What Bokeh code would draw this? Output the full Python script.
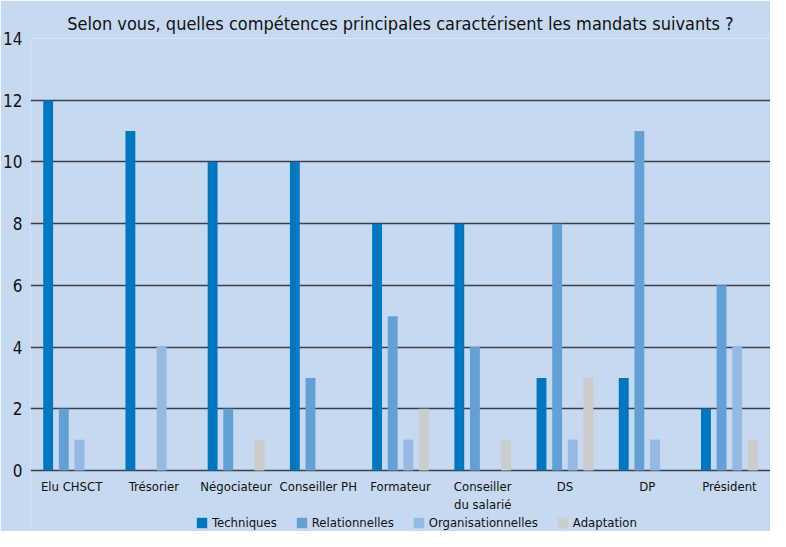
from bokeh.plotting import figure
from bokeh.models import ColumnDataSource, FactorRange, Legend, LegendItem, FixedTicker, Range1d
from bokeh.core.properties import value
from bokeh.transform import dodge
from bokeh.embed import file_html
from bokeh.resources import INLINE

categories = ["Elu CHSCT", "Trésorier", "Négociateur", "Conseiller PH", "Formateur",
              "Conseiller\ndu salarié", "DS", "DP", "Président"]
techniques = [12, 11, 10, 10, 8, 8, 3, 3, 2]
relationnelles = [2, 0, 2, 3, 5, 4, 8, 11, 6]
organisationnelles = [1, 4, 0, 0, 1, 0, 1, 1, 4]
adaptation = [0, 0, 1, 0, 2, 1, 3, 0, 1]
series_names = ["Techniques", "Relationnelles", "Organisationnelles", "Adaptation"]
y_ticks = [0, 2, 4, 6, 8, 10, 12, 14]

colors = ["#0078c1", "#62a0d6", "#95b9e3", "#cccccc"]
BG = "#c6d9f0"
FONT = "'DejaVu Sans Condensed', 'Liberation Sans Narrow', Roboto, sans-serif"

src = ColumnDataSource(dict(cat=categories, t=techniques, r=relationnelles,
                            o=organisationnelles, a=adaptation,
                            zero=[0] * len(categories)))

H, TOP, BOTTOM_GAP = 531, 38, 61
px_per_unit = (H - TOP - BOTTOM_GAP) / 14.0
p = figure(width=770, height=H, output_backend="svg", toolbar_location=None,
           x_range=FactorRange(*categories, range_padding=0),
           y_range=Range1d(-BOTTOM_GAP / px_per_unit, 14),
           min_border_left=22, min_border_right=0, min_border_top=TOP, min_border_bottom=0)
p.background_fill_color = BG
p.border_fill_color = BG
p.outline_line_color = None

p.title.text = "Selon vous, quelles compétences principales caractérisent les mandats suivants ?"
p.title.align = "center"
p.title.text_font = FONT
p.title.text_font_size = "18px"
p.title.text_font_style = "normal"
p.title.text_color = "#111111"
p.title.offset = 8

renderers = []
offsets = [-0.285, -0.095, 0.095, 0.285]
for key, off, col in zip(["t", "r", "o", "a"], offsets, colors):
    r = p.vbar(x=dodge("cat", off, range=p.x_range), top=key, width=0.12, source=src,
               fill_color=col, line_color=None)
    renderers.append(r)

# category labels
p.text(x="cat", y="zero", text="cat", source=src, y_offset=8,
       text_align="center", text_baseline="top", text_font=value(FONT),
       text_font_size="13px", text_color="#111111", text_line_height=1.2)

p.xgrid.grid_line_color = None
p.ygrid.ticker = FixedTicker(ticks=y_ticks)
p.ygrid.grid_line_color = "#3a3f4a"
p.ygrid.grid_line_width = 1.5

p.xaxis.visible = False
p.yaxis.ticker = FixedTicker(ticks=y_ticks)
p.yaxis.axis_line_color = None
p.yaxis.major_tick_line_color = None
p.yaxis.minor_tick_line_color = None
p.yaxis.major_label_text_font = FONT
p.yaxis.major_label_text_font_size = "17px"
p.yaxis.major_label_text_color = "#111111"
p.yaxis.major_label_standoff = 2

legend = Legend(items=[LegendItem(label=n, renderers=[r]) for n, r in zip(series_names, renderers)],
                orientation="horizontal", location=(165, 1),
                background_fill_alpha=0, border_line_color=None,
                label_text_font=FONT, label_text_font_size="13px", label_text_color="#111111",
                glyph_width=13, glyph_height=13, spacing=18, padding=0, margin=0,
                label_standoff=4, label_height=13)
p.add_layout(legend, "center")

open("out.html", "w").write(file_html(p, INLINE))
